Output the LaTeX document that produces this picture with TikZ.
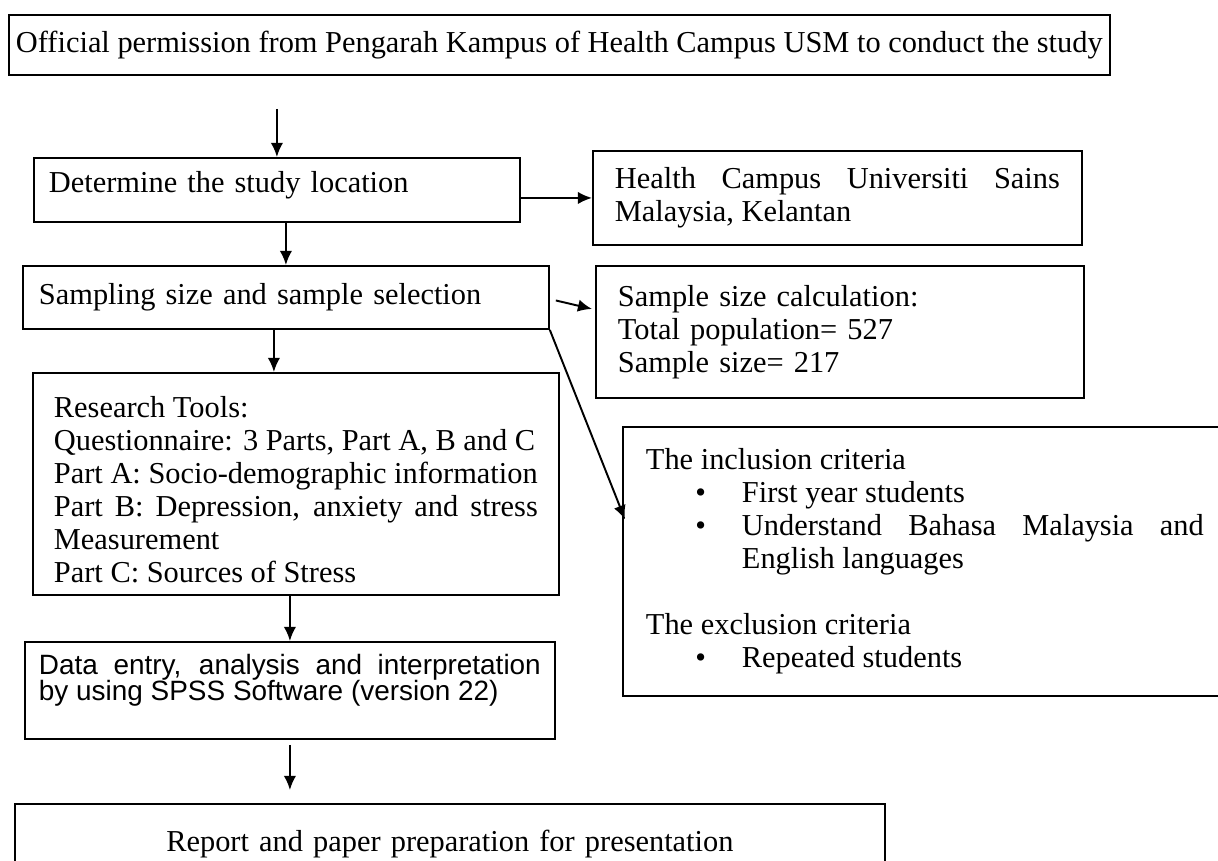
\documentclass[tikz,border=0pt]{standalone}
\usepackage{fontspec}
\setmainfont{Liberation Serif}
\setsansfont{Liberation Sans}
\usetikzlibrary{arrows.meta,positioning,calc}

\newcommand{\critem}[1]{{\leftskip=1.92cm\noindent\llap{\textbullet\hspace{0.72cm}}#1\par}}

\begin{document}
\begin{tikzpicture}[
  x=0.02cm, y=-0.02cm,
  box/.style={draw, line width=1.1pt, anchor=north west, align=left, inner ysep=0pt, font=\fontsize{17.3}{18.8}\selectfont},
  jbox/.style={box, align=justify},
  arr/.style={-{Latex[length=8pt,width=7pt]}, line width=1.1pt}
]
\useasboundingbox (0,0) rectangle (1218,861);

\node[box, inner xsep=0.14cm, minimum height=1.2cm] (perm) at (8,14)
  {Official permission from Pengarah Kampus of Health Campus USM to conduct the study};
\node[box, text width=9.12cm, inner xsep=0.3cm, minimum height=1.28cm, text depth=9pt] (det) at (33,157)
  {Determine the study location};
\node[jbox, text width=8.9cm, inner xsep=0.44cm, minimum height=1.88cm] (health) at (592,150)
  {Health Campus Universiti Sains\linebreak Malaysia, Kelantan};
\node[box, text width=9.88cm, inner xsep=0.32cm, minimum height=1.26cm] (samp) at (22,265)
  {Sampling size and sample selection};
\node[box, text width=8.88cm, inner xsep=0.44cm, minimum height=2.64cm] (calc) at (595,265)
  {Sample size calculation:\\Total population= 527\\Sample size= 217};
\node[jbox, text width=9.68cm, inner xsep=0.42cm, minimum height=4.44cm] (tools) at (32,372)
  {\rule{0pt}{0.65cm}Research Tools:\\Questionnaire: 3 Parts, Part A, B and C\\Part A: Socio-demographic information\\
   Part B: Depression, anxiety and stress\linebreak Measurement\\Part C: Sources of Stress};
\node[jbox, text width=11.16cm, inner xsep=0.46cm, minimum height=5.38cm] (incl) at (622,426)
  {The inclusion criteria\par
   \critem{First year students}
   \critem{Understand Bahasa Malaysia and\linebreak English languages}
   \vspace{\baselineskip}
   \noindent The exclusion criteria\par
   \critem{Repeated students}};
\node[jbox, text width=10.04cm, inner xsep=0.28cm, minimum height=1.94cm, font=\sffamily\fontsize{15.9}{15}\selectfont] (data) at (24,641)
  {Data entry, analysis and interpretation\linebreak by using SPSS Software (version 22)\par\noindent\rule{0pt}{1pt}};
\node[box, align=center, text width=17.0cm, inner xsep=0.2cm, minimum height=1.6cm] (report) at (14,803)
  {Report and paper preparation for presentation};

% main column
\draw[arr, shorten <=0.66cm] (perm.south -| det.north) -- (det.north);
\draw[arr] (det.south -| samp.north) -- (samp.north);
\coordinate (sdown) at ($(samp.south)+(-12,0)$);
\draw[arr] (sdown) -- (sdown |- tools.north);
\draw[arr] (tools.south -| data.north) -- (data.north);
\draw[arr, shorten <=0.1cm, shorten >=0.26cm] (data.south) -- (data.south |- report.north);

% side branches
\draw[arr] (det.east |- health.west) -- (health.west);
\draw[arr] ($(samp.east)+(6,3)$) -- ($(calc.west)+(-3,-23)$);
\draw[arr] (samp.south east) -- ($(incl.west)+(3,-42)$);

\end{tikzpicture}
\end{document}
